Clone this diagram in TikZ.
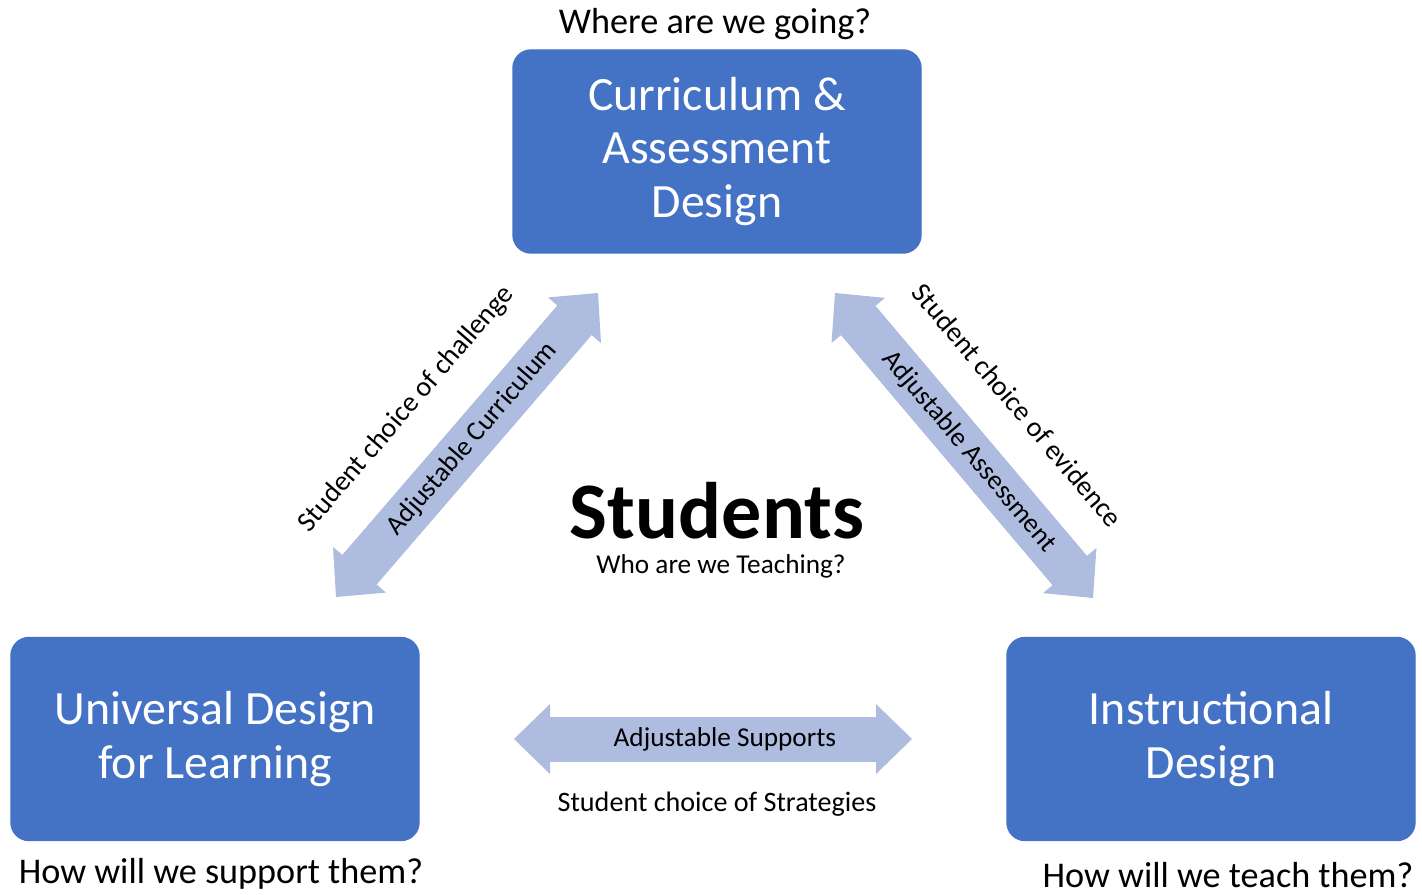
\documentclass[tikz,border=0pt]{standalone}
\usepackage{fontspec}
\setmainfont{Carlito}
\usetikzlibrary{positioning,arrows.meta}
\definecolor{boxblue}{HTML}{4472C4}
\definecolor{arrowblue}{RGB}{174,188,224}
\tikzset{
  designbox/.style={draw=boxblue, fill=boxblue, rounded corners=0.18cm, minimum width=4.08cm, minimum height=2.03cm, align=center, text=white, font=\fontsize{13.6}{15.1}\selectfont},
  question/.style={font=\fontsize{10.3}{12}\selectfont, inner sep=0pt},
  adjust/.style={font=\fontsize{7.75}{9}\selectfont, inner sep=0pt, outer sep=0pt},
  choice/.style={font=\fontsize{8}{9.5}\selectfont, inner sep=0pt, outer sep=0pt},
  bigarrow/.style={draw=arrowblue, line width=0.45cm,
    {Triangle[width=0.7cm, length=0.36cm, line width=0pt]}-{Triangle[width=0.7cm, length=0.36cm, line width=0pt]},
    postaction={draw=arrowblue, line width=0.45cm, -, shorten <=0.3cm, shorten >=0.3cm}}
}
\begin{document}
\begin{tikzpicture}
  \useasboundingbox (0,0) rectangle (14.22,8.94);
  % the three design boxes
  \node[designbox] (cad) at (7.17,7.425) {Curriculum \&\\Assessment\\Design};
  \node[designbox] (udl) at (2.15,1.55) {Universal Design\\for Learning};
  \node[designbox] (instr) at (12.11,1.55) {Instructional\\Design};
  \node[question, above=0.09cm of cad, xshift=-0.02cm] (going) {Where are we going?};
  \node[question, below=0.16cm of udl, xshift=0.06cm] (support) {How will we support them?};
  \node[question, below=0.2cm of instr, xshift=0.17cm] (teach) {How will we teach them?};
  % centre
  \node[font=\bfseries\fontsize{22.8}{27}\selectfont] (students) at (7.17,3.83) {Students};
  \node[adjust] (who) at (7.21,3.28) {Who are we Teaching?};
  % arrows
  \coordinate (curA) at (3.36,2.97);
  \coordinate (curB) at (5.98,6.01);
  \coordinate (assA) at (8.35,6.01);
  \coordinate (assB) at (10.93,2.96);
  \coordinate (supA) at (5.14,1.55);
  \coordinate (supB) at (9.12,1.55);
  \draw[bigarrow] (curA) -- node[pos=0.52, sloped, adjust] (adjcur) {Adjustable Curriculum}
    node[pos=0.47, sloped, above=0.57cm, choice] (challenge) {Student choice of challenge} (curB);
  \draw[bigarrow] (assA) -- node[pos=0.52, sloped, adjust] (adjass) {Adjustable Assessment}
    node[pos=0.51, sloped, above=0.57cm, choice] (evidence) {Student choice of evidence} (assB);
  \draw[bigarrow] (supA) -- node[pos=0.53, adjust] (adjsup) {Adjustable Supports}
    node[pos=0.51, below=0.53cm, choice] (strategies) {Student choice of Strategies} (supB);
\end{tikzpicture}
\end{document}
